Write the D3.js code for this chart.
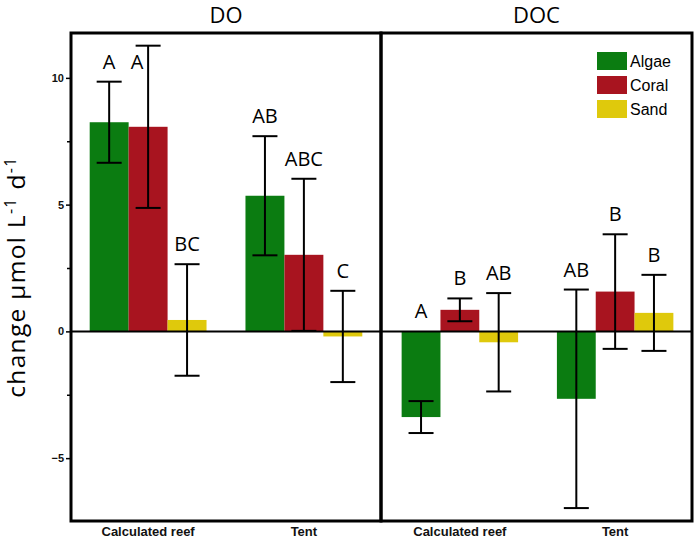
<!DOCTYPE html>
<html>
<head>
<meta charset="utf-8">
<script src="https://cdn.jsdelivr.net/npm/d3@7"></script>
<style>
  body { margin: 0; background: #fff; }
  svg { display: block; }
</style>
</head>
<body>
<svg id="chart" width="694" height="540"></svg>
<script>
// ---- data ----
const panels = ["DO", "DOC"];
const sites = ["Calculated reef", "Tent"];
const substrates = ["Algae", "Coral", "Sand"];
const colors = ["#0b7c11", "#a8141f", "#dfc90c"];

// means ordered: [site][substrate]
const doMeans  = [[8.25, 8.07, 0.45], [5.35, 3.02, -0.2]];
const doErr    = [[1.6, 3.2, 2.2], [2.35, 3.0, 1.8]];
const doLetters = [["A", "A", "BC"], ["AB", "ABC", "C"]];

const docMeans = [[-3.38, 0.85, -0.43], [-2.66, 1.57, 0.73]];
const docErr   = [[0.63, 0.45, 1.94], [4.31, 2.26, 1.5]];
const docLetters = [["A", "B", "AB"], ["AB", "B", "B"]];

const yMajorTicks = [-5, 0, 5, 10];
const yMinorTicks = [-2.5, 2.5, 7.5];
const yDomain = [-7.48, 11.77];

// ---- layout ----
const svg = d3.select("#chart");
const plotTop = 33, plotBottom = 521;
const panelX = [[71, 381], [383, 692]];
const frameX = [[71, 381], [381, 692]];

const y = d3.scaleLinear().domain(yDomain).range([plotBottom, plotTop]);

const panelData = [
  { means: doMeans, err: doErr, letters: doLetters },
  { means: docMeans, err: docErr, letters: docLetters }
];

const labelFont = "'Open Sans', 'Noto Sans', sans-serif";
const axisFont = "'Liberation Sans', Arial, sans-serif";

panelData.forEach((pd, pi) => {
  const x0 = d3.scaleBand().domain(sites).range(panelX[pi]).paddingInner(0.25).paddingOuter(0.12);
  const x1 = d3.scaleBand().domain(substrates).range([0, x0.bandwidth()]).padding(0);
  const g = svg.append("g");

  const rows = [];
  sites.forEach((s, si) => substrates.forEach((sub, ki) => {
    rows.push({ site: s, sub, k: ki, mean: pd.means[si][ki], err: pd.err[si][ki], letter: pd.letters[si][ki] });
  }));

  // bars
  g.selectAll("rect.bar").data(rows).join("rect")
    .attr("class", "bar")
    .attr("x", d => x0(d.site) + x1(d.sub))
    .attr("width", x1.bandwidth())
    .attr("y", d => y(Math.max(0, d.mean)))
    .attr("height", d => Math.abs(y(d.mean) - y(0)))
    .attr("fill", d => colors[d.k]);

  // zero line
  g.append("line")
    .attr("x1", frameX[pi][0]).attr("x2", frameX[pi][1])
    .attr("y1", y(0)).attr("y2", y(0))
    .attr("stroke", "#000").attr("stroke-width", 2);

  // error bars
  const capW = 25;
  const eb = g.selectAll("g.eb").data(rows).join("g").attr("class", "eb")
    .attr("transform", d => `translate(${x0(d.site) + x1(d.sub) + x1.bandwidth() / 2},0)`);
  eb.append("line").attr("y1", d => y(d.mean + d.err)).attr("y2", d => y(d.mean - d.err))
    .attr("stroke", "#000").attr("stroke-width", 2);
  eb.append("line").attr("x1", -capW / 2).attr("x2", capW / 2)
    .attr("y1", d => y(d.mean + d.err)).attr("y2", d => y(d.mean + d.err))
    .attr("stroke", "#000").attr("stroke-width", 2);
  eb.append("line").attr("x1", -capW / 2).attr("x2", capW / 2)
    .attr("y1", d => y(d.mean - d.err)).attr("y2", d => y(d.mean - d.err))
    .attr("stroke", "#000").attr("stroke-width", 2);

  // significance letters
  g.selectAll("text.letter").data(rows).join("text")
    .attr("class", "letter")
    .each(function (d) {
      const cx = x0(d.site) + x1(d.sub) + x1.bandwidth() / 2;
      let ly = y(Math.max(0, d.mean + d.err)) - 13;
      let lx = cx;
      if (ly - 14 < plotTop) { ly = plotTop + 36; lx = cx - 11; }
      d3.select(this).attr("x", lx).attr("y", ly);
    })
    .attr("text-anchor", "middle")
    .attr("font-family", labelFont)
    .attr("font-size", 20)
    .attr("fill", "#000")
    .text(d => d.letter);

  // site labels
  g.selectAll("text.site").data(sites).join("text")
    .attr("class", "site")
    .attr("x", d => x0(d) + x0.bandwidth() / 2)
    .attr("y", 536)
    .attr("text-anchor", "middle")
    .attr("font-family", axisFont)
    .attr("font-weight", "bold")
    .attr("font-size", 13)
    .attr("fill", "#111")
    .text(d => d);

  // frame
  g.append("rect")
    .attr("x", frameX[pi][0]).attr("y", plotTop)
    .attr("width", frameX[pi][1] - frameX[pi][0]).attr("height", plotBottom - plotTop)
    .attr("fill", "none").attr("stroke", "#000").attr("stroke-width", 3);

  // panel title
  svg.append("text")
    .attr("x", (frameX[pi][0] + frameX[pi][1]) / 2)
    .attr("y", 23)
    .attr("text-anchor", "middle")
    .attr("font-family", labelFont)
    .attr("font-size", 22)
    .attr("fill", "#000")
    .text(panels[pi]);
});

// y axis
const yAxis = d3.axisLeft(y).tickValues(yMajorTicks).tickSize(5).tickPadding(2).tickFormat(d3.format("d"));
const ag = svg.append("g").attr("transform", `translate(${frameX[0][0]},0)`).call(yAxis);
ag.select(".domain").remove();
ag.selectAll(".tick line").attr("stroke", "#000").attr("stroke-width", 1.5);
ag.selectAll(".tick text").attr("font-family", axisFont).attr("font-weight", "bold").attr("font-size", 11).attr("fill", "#111");
const yMinor = d3.axisLeft(y).tickValues(yMinorTicks).tickSize(4).tickFormat("");
const mg = svg.append("g").attr("transform", `translate(${frameX[0][0]},0)`).call(yMinor);
mg.select(".domain").remove();
mg.selectAll(".tick line").attr("stroke", "#000").attr("stroke-width", 1.5);

// y label
const yl = svg.append("text")
  .attr("transform", `translate(25, ${(plotTop + plotBottom) / 2}) rotate(-90)`)
  .attr("text-anchor", "middle")
  .attr("font-family", labelFont)
  .attr("font-size", 24.5)
  .attr("letter-spacing", 1.3)
  .attr("fill", "#000");
yl.append("tspan").text("change µmol L");
yl.append("tspan").attr("font-size", 16).attr("dy", -9).text("-1");
yl.append("tspan").attr("dy", 9).text(" d");
yl.append("tspan").attr("font-size", 16).attr("dy", -9).text("-1");

// legend
const lg = svg.append("g").attr("transform", "translate(597,52)");
substrates.forEach((s, i) => {
  lg.append("rect").attr("x", 0).attr("y", i * 24).attr("width", 30).attr("height", 18).attr("fill", colors[i]);
  lg.append("text").attr("x", 33).attr("y", i * 24 + 15)
    .attr("font-family", axisFont).attr("font-size", 16).attr("fill", "#000").text(s);
});
</script>
</body>
</html>
